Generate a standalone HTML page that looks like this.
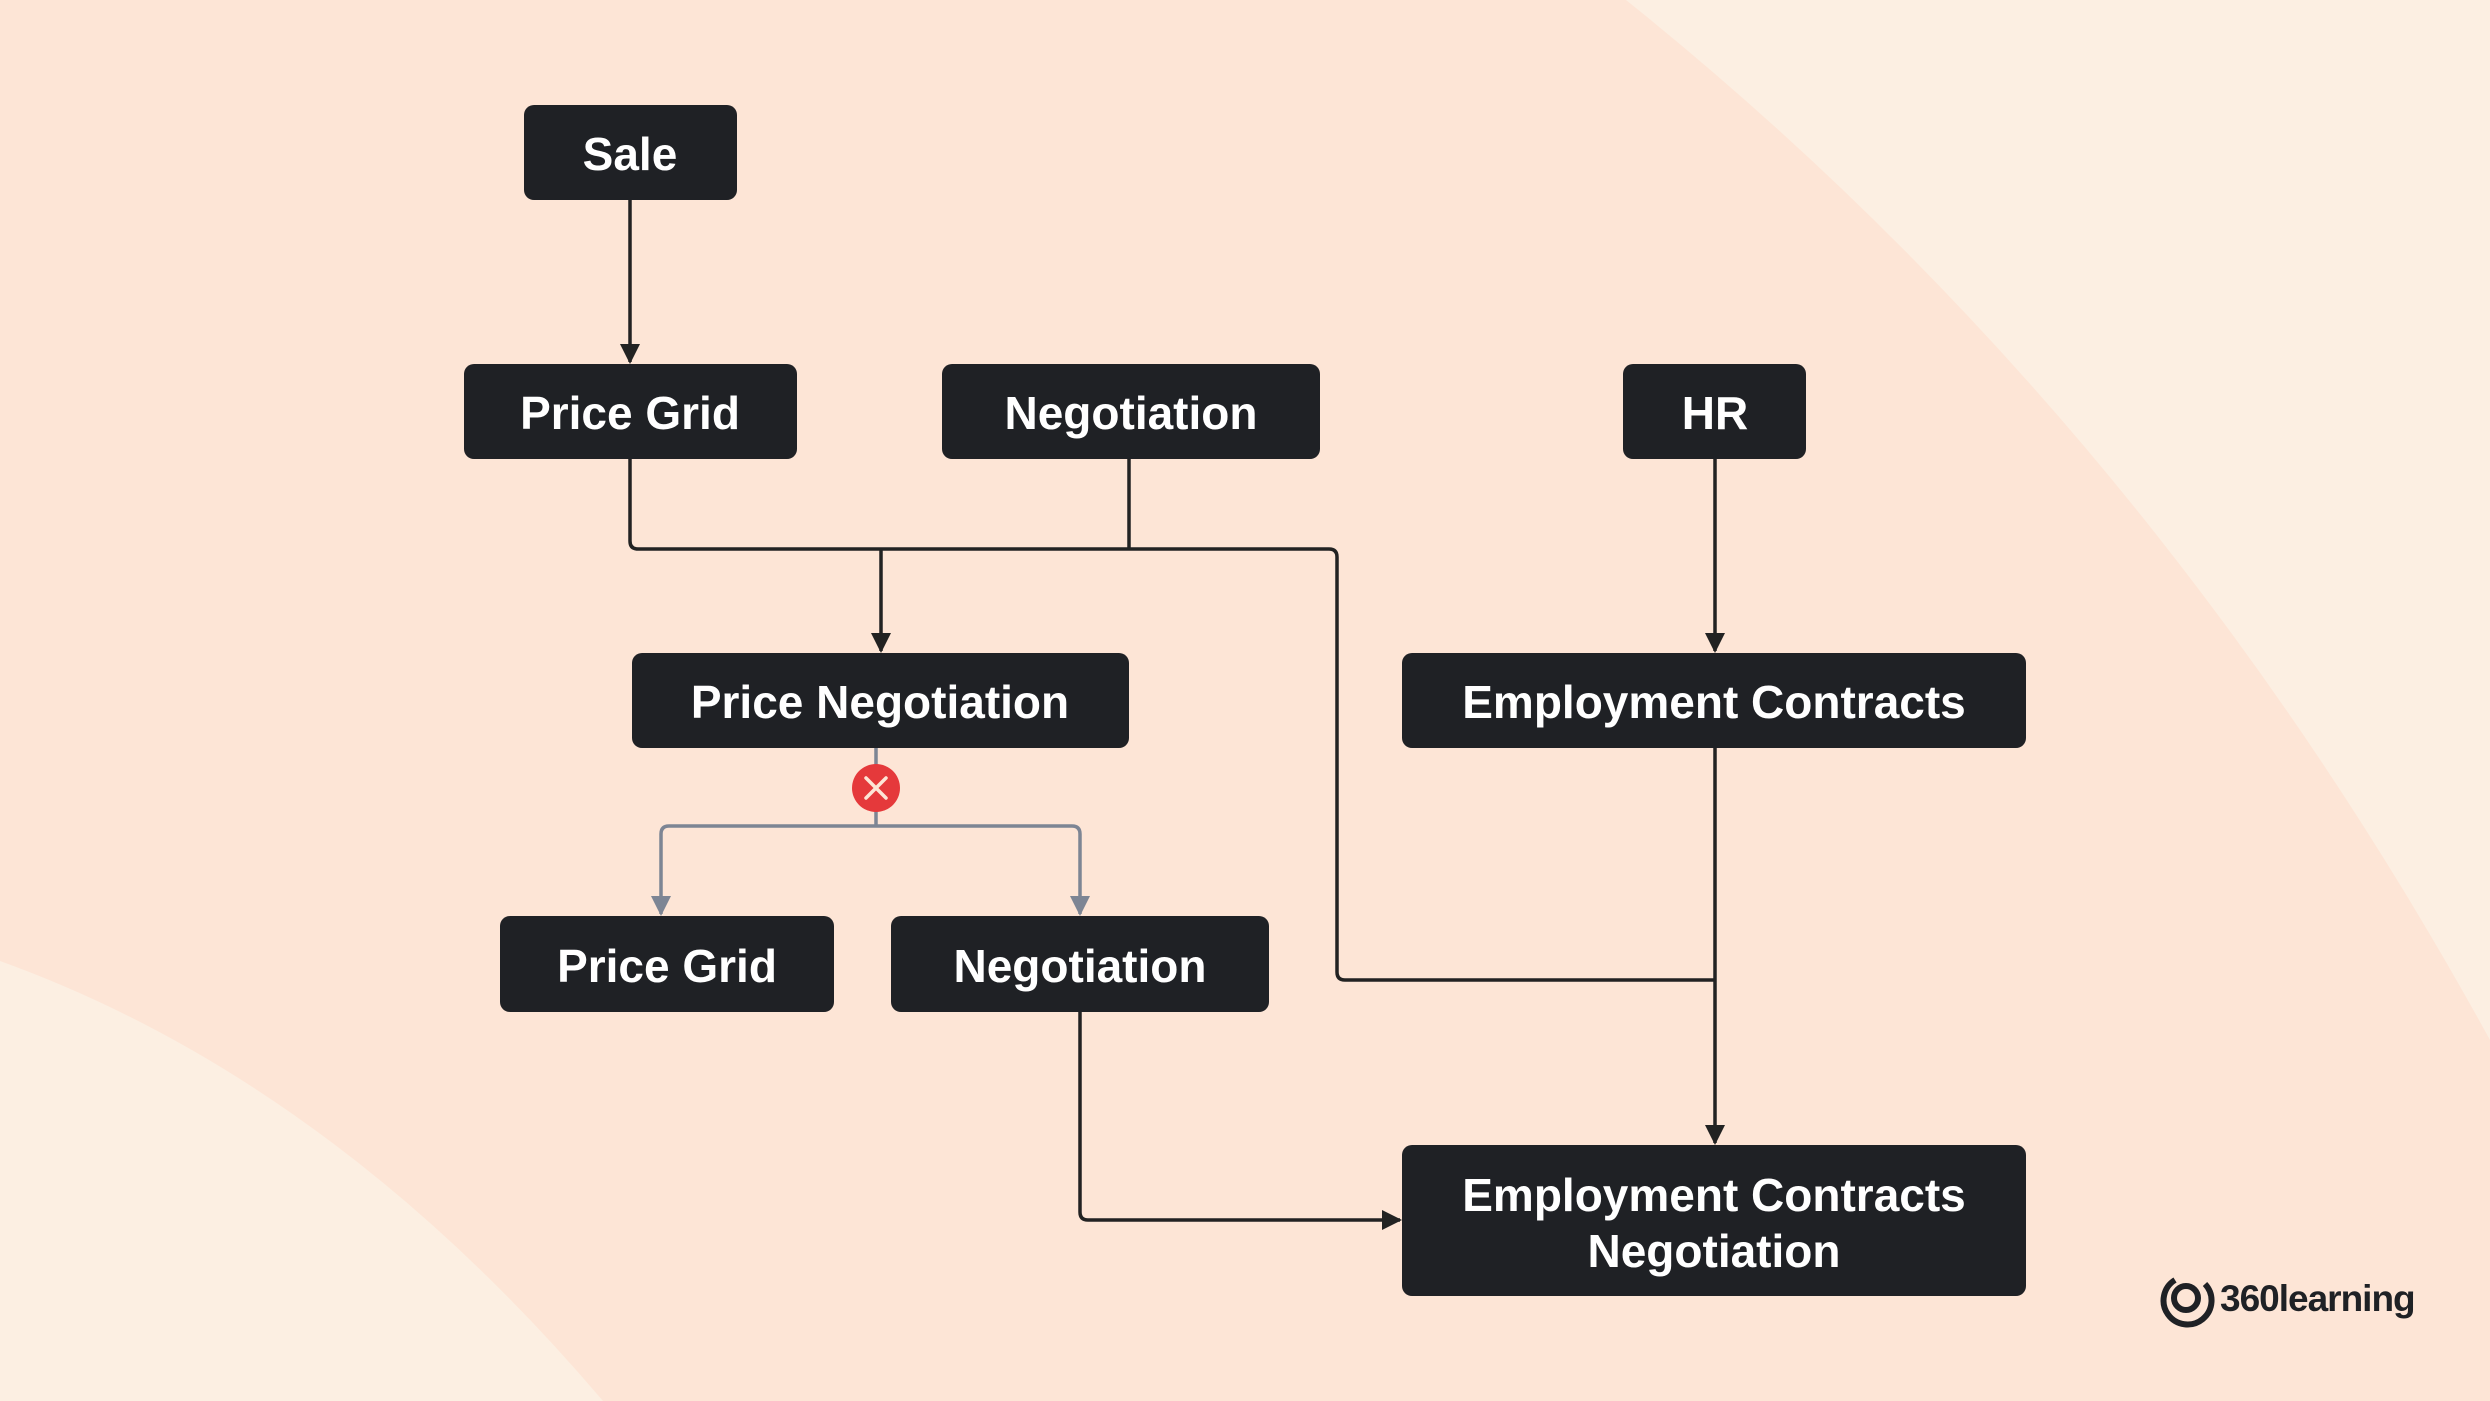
<!DOCTYPE html>
<html><head><meta charset="utf-8"><style>
html,body{margin:0;padding:0;}
body{width:2490px;height:1401px;overflow:hidden;background:#fde5d6;}
svg{display:block;}
text{font-family:"Liberation Sans",sans-serif;font-weight:bold;fill:#fff;}
</style></head><body>
<svg width="2490" height="1401" viewBox="0 0 2490 1401" xmlns="http://www.w3.org/2000/svg">
<defs>
<marker id="ab" viewBox="0 0 10 10" refX="9" refY="5" markerWidth="20" markerHeight="20" orient="auto" markerUnits="userSpaceOnUse"><path d="M0,0 L10,5 L0,10 z" fill="#222"/></marker>
<marker id="ag" viewBox="0 0 10 10" refX="9" refY="5" markerWidth="20" markerHeight="20" orient="auto" markerUnits="userSpaceOnUse"><path d="M0,0 L10,5 L0,10 z" fill="#7d8594"/></marker>
</defs>
<rect width="2490" height="1401" fill="#fde5d6"/>
<path d="M1626,0 Q2150,420 2490,1040 L2490,0 Z" fill="#fcefe2"/>
<path d="M0,961 Q330,1080 603,1401 L0,1401 Z" fill="#fcefe2"/>
<g fill="none" stroke="#222" stroke-width="3.5">
<path d="M630,200 V362" marker-end="url(#ab)"/>
<path d="M630,459 V541 Q630,549 638,549 H1329 Q1337,549 1337,557 V972 Q1337,980 1345,980 H1715"/>
<path d="M1129,459 V549"/>
<path d="M881,549 V651" marker-end="url(#ab)"/>
<path d="M1715,459 V651" marker-end="url(#ab)"/>
<path d="M1715,748 V1143" marker-end="url(#ab)"/>
<path d="M1080,1012 V1212 Q1080,1220 1088,1220 H1400" marker-end="url(#ab)"/>
</g>
<g fill="none" stroke="#7d8594" stroke-width="3.5">
<path d="M876,748 V826"/>
<path d="M876,826 H669 Q661,826 661,834 V914" marker-end="url(#ag)"/>
<path d="M876,826 H1072 Q1080,826 1080,834 V914" marker-end="url(#ag)"/>
</g>
<circle cx="876" cy="788" r="24" fill="#e5393b"/>
<path d="M866,778 L886,798 M886,778 L866,798" stroke="#fde5d6" stroke-width="3.5" stroke-linecap="round"/>
<g fill="#1f2125">
<rect x="524" y="105" width="213" height="95" rx="10"/>
<rect x="464" y="364" width="333" height="95" rx="10"/>
<rect x="942" y="364" width="378" height="95" rx="10"/>
<rect x="1623" y="364" width="183" height="95" rx="10"/>
<rect x="632" y="653" width="497" height="95" rx="10"/>
<rect x="1402" y="653" width="624" height="95" rx="10"/>
<rect x="500" y="916" width="334" height="96" rx="10"/>
<rect x="891" y="916" width="378" height="96" rx="10"/>
<rect x="1402" y="1145" width="624" height="151" rx="10"/>
</g>
<g font-size="46" text-anchor="middle">
<text x="630" y="170">Sale</text>
<text x="630" y="429">Price Grid</text>
<text x="1131" y="429">Negotiation</text>
<text x="1715" y="429">HR</text>
<text x="880" y="718">Price Negotiation</text>
<text x="1714" y="718">Employment Contracts</text>
<text x="667" y="982">Price Grid</text>
<text x="1080" y="982">Negotiation</text>
<text x="1714" y="1211">Employment Contracts</text>
<text x="1714" y="1267">Negotiation</text>
</g>
<g fill="none" stroke="#1f2125" stroke-width="6">
<path d="M2205,1284 A24,24 0 1 1 2175,1280"/>
<circle cx="2186" cy="1298" r="12"/>
</g>
<text x="2220" y="1311" font-size="37" style="fill:#1f2125;font-weight:bold" letter-spacing="-1">360learning</text>
</svg>
</body></html>
